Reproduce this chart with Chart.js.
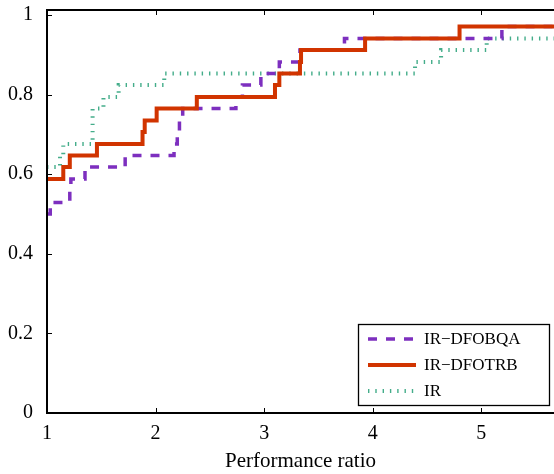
<!DOCTYPE html>
<html>
<head>
<meta charset="utf-8">
<script src="https://cdn.jsdelivr.net/npm/chart.js@4.4.1/dist/chart.umd.min.js"></script>
<style>
  html, body { margin: 0; padding: 0; background: #fff; }
  #wrap { width: 554px; height: 474px; }
</style>
</head>
<body>
<div id="wrap"><canvas id="chart" width="554" height="474"></canvas></div>
<script>
// performance profile: ratio where each step starts, fraction of problems solved
const seriesNames = ['IR\u2212DFOBQA', 'IR\u2212DFOTRB', 'IR'];

const bqaRatio = [1, 1.03, 1.21, 1.22, 1.35, 1.72, 2.17, 2.2, 2.22, 2.25, 2.74, 2.8, 2.97, 3.14, 3.33, 3.74, 5.19, 5.67];
const bqaFrac  = [0.5, 0.529, 0.559, 0.588, 0.618, 0.647, 0.676, 0.706, 0.735, 0.765, 0.794, 0.824, 0.853, 0.882, 0.912, 0.941, 0.971, 0.971];

const trbRatio = [1, 1.15, 1.21, 1.46, 1.88, 1.9, 2.01, 2.38, 3.1, 3.14, 3.33, 3.34, 3.93, 4.8, 5.67];
const trbFrac  = [0.588, 0.618, 0.647, 0.676, 0.706, 0.735, 0.765, 0.794, 0.824, 0.853, 0.882, 0.912, 0.941, 0.971, 0.971];

const irRatio = [1, 1.12, 1.15, 1.42, 1.52, 1.66, 2.08, 4.39, 4.63, 5.05, 5.67];
const irFrac  = [0.618, 0.647, 0.676, 0.765, 0.794, 0.824, 0.853, 0.882, 0.912, 0.941, 0.941];

const xTicks = [1, 2, 3, 4, 5];
const yTicks = [0, 0.2, 0.4, 0.6, 0.8, 1];

const serif = 'Liberation Serif';

const pts = (xs, ys) => xs.map((v, i) => ({ x: v, y: ys[i] }));

// axes box with inward ticks + legend box inside the plot (matlab style)
const frame = {
  id: 'frame',
  afterDatasetsDraw(chart) {
    const { ctx, chartArea: a, scales: { x, y } } = chart;
    ctx.save();
    ctx.strokeStyle = '#000';
    ctx.lineWidth = 1;
    ctx.beginPath();
    xTicks.forEach(v => {
      const px = Math.round(x.getPixelForValue(v)) + 0.5;
      ctx.moveTo(px, a.bottom); ctx.lineTo(px, a.bottom - 5);
      ctx.moveTo(px, a.top); ctx.lineTo(px, a.top + 5);
    });
    yTicks.forEach(v => {
      const py = Math.round(y.getPixelForValue(v)) + 0.5;
      ctx.moveTo(a.left, py); ctx.lineTo(a.left + 5, py);
    });
    ctx.stroke();

    ctx.lineWidth = 2;
    ctx.beginPath();
    ctx.moveTo(a.right, a.top);
    ctx.lineTo(a.left, a.top);
    ctx.lineTo(a.left, a.bottom);
    ctx.lineTo(a.right, a.bottom);
    ctx.stroke();

    // legend
    const bx = 358.5, by = 324.5, bw = 191, bh = 81;
    ctx.fillStyle = '#fff';
    ctx.fillRect(bx, by, bw, bh);
    ctx.lineWidth = 1.3;
    ctx.strokeRect(bx, by, bw, bh);
    const rows = [339, 365, 391];
    chart.data.datasets.forEach((ds, i) => {
      ctx.save();
      ctx.strokeStyle = ds.borderColor;
      ctx.lineWidth = ds.borderWidth;
      ctx.setLineDash(ds.borderDash || []);
      ctx.beginPath();
      ctx.moveTo(368, rows[i]);
      ctx.lineTo(416, rows[i]);
      ctx.stroke();
      ctx.restore();
      ctx.fillStyle = '#000';
      ctx.font = '17px "' + serif + '"';
      ctx.textBaseline = 'middle';
      ctx.textAlign = 'left';
      ctx.fillText(ds.label, 424, rows[i] + 1);
    });
    ctx.restore();
  }
};

new Chart(document.getElementById('chart'), {
  type: 'line',
  data: {
    datasets: [
      {
        label: seriesNames[0],
        data: pts(bqaRatio, bqaFrac),
        borderColor: '#7d2fbf',
        borderWidth: 3.5,
        borderDash: [9, 9],
        stepped: 'before',
        pointRadius: 0,
        order: 1
      },
      {
        label: seriesNames[1],
        data: pts(trbRatio, trbFrac),
        borderColor: '#d13400',
        borderWidth: 4,
        stepped: 'before',
        pointRadius: 0,
        order: 0
      },
      {
        label: seriesNames[2],
        data: pts(irRatio, irFrac),
        borderColor: '#44ad8a',
        borderWidth: 4,
        borderDash: [1.4, 5.9],
        stepped: 'before',
        pointRadius: 0,
        order: 2
      }
    ]
  },
  options: {
    responsive: false,
    animation: false,
    layout: { padding: { top: 10, right: 0, left: 0, bottom: 0 } },
    plugins: {
      legend: { display: false },
      tooltip: { enabled: false }
    },
    scales: {
      x: {
        type: 'linear',
        min: 1,
        max: 5.67,
        grid: { display: false },
        border: { display: false },
        afterBuildTicks: s => { s.ticks = xTicks.map(v => ({ value: v })); },
        afterFit: s => { s.height = 61; s.paddingLeft = 0; s.paddingRight = 0; },
        ticks: {
          color: '#000',
          padding: 1,
          maxRotation: 0,
          font: { family: serif, size: 20 },
          callback: v => String(v)
        },
        title: {
          display: true,
          text: 'Performance ratio',
          color: '#000',
          padding: { top: 0, bottom: 0 },
          font: { family: serif, size: 21 }
        }
      },
      y: {
        min: 0,
        max: 1.0126,
        grid: { display: false },
        border: { display: false },
        afterBuildTicks: s => { s.ticks = yTicks.map(v => ({ value: v })); },
        afterFit: s => { s.width = 47; s.paddingTop = 0; s.paddingBottom = 0; },
        ticks: {
          color: '#000',
          padding: 6,
          font: { family: serif, size: 20 },
          callback: v => String(v)
        }
      }
    }
  },
  plugins: [frame]
});
</script>
</body>
</html>
